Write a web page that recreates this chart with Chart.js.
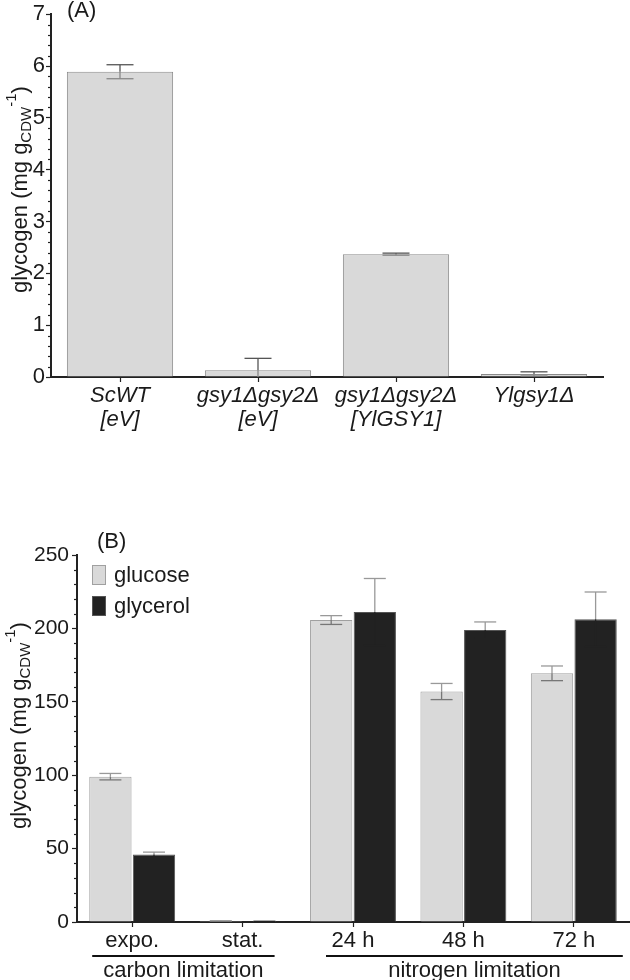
<!DOCTYPE html>
<html>
<head>
<meta charset="utf-8">
<script src="https://cdn.jsdelivr.net/npm/chart.js@4"></script>
<style>
  body { margin: 0; background: #fff; width: 630px; height: 980px; position: relative; overflow: hidden; }
  .panel { position: absolute; left: 0; width: 630px; }
  #panelA { top: 0; height: 470px; }
  #panelB { top: 480px; height: 500px; }
</style>
</head>
<body>
<div class="panel" id="panelA"><canvas id="chartA"></canvas></div>
<div class="panel" id="panelB"><canvas id="chartB"></canvas></div>
<script>
// panel A: glycogen per strain
const strainLabels = [['ScWT', '[eV]'], ['gsy1Δgsy2Δ', '[eV]'], ['gsy1Δgsy2Δ', '[YlGSY1]'], ['Ylgsy1Δ']];
const strainGlycogen = [5.89, 0.13, 2.37, 0.06];
const strainErr = [0.135, 0.23, 0.02, 0.04];

// panel B: glucose vs glycerol over growth phases
const phaseLabels = ['expo.', 'stat.', '24 h', '48 h', '72 h'];
const groupLabels = ['carbon limitation', 'nitrogen limitation'];
const groupRanges = [[0, 1], [2, 4]];
const glucoseVals = [99, 0.6, 205.7, 157, 169.4];
const glucoseErr = [2.2, 0.2, 3, 5.5, 5];
const glycerolVals = [46, 0.5, 211.2, 198.9, 206.2];
const glycerolErr = [1.6, 0.2, 22.8, 5.5, 18.6];

const yTitleParts = ['glycogen (mg g', 'CDW', '-1', ')'];

const FONT = 'Arial, "Liberation Sans", sans-serif';
const INK = '#1a1a1a';

Chart.defaults.font.family = FONT;
Chart.defaults.color = INK;

function line(ctx, x1, y1, x2, y2) {
  ctx.beginPath();
  ctx.moveTo(x1, y1);
  ctx.lineTo(x2, y2);
  ctx.stroke();
}

const errorBars = {
  id: 'errorBars',
  afterDatasetsDraw(chart, args, opts) {
    const ctx = chart.ctx, y = chart.scales.y, a = chart.chartArea;
    ctx.save();
    ctx.beginPath();
    ctx.rect(a.left, a.top - 30, a.right - a.left, a.bottom - a.top + 30);
    ctx.clip();
    ctx.lineWidth = 1.3;
    chart.data.datasets.forEach((ds, di) => {
      if (!ds.errors) return;
      const meta = chart.getDatasetMeta(di);
      meta.data.forEach((bar, i) => {
        const v = ds.data[i], e = ds.errors[i];
        const hi = y.getPixelForValue(v + e), lo = y.getPixelForValue(v - e);
        const h = opts.cap / 2;
        ctx.strokeStyle = ds.errColor;
        line(ctx, bar.x, bar.y, bar.x, hi);
        line(ctx, bar.x - h, hi, bar.x + h, hi);
        ctx.strokeStyle = ds.errLowColor;
        line(ctx, bar.x, bar.y, bar.x, lo);
        line(ctx, bar.x - h, lo, bar.x + h, lo);
      });
    });
    ctx.restore();
  }
};

const minorTicks = {
  id: 'minorTicks',
  afterDraw(chart, args, opts) {
    const ctx = chart.ctx, s = chart.scales.y;
    const n = Math.round((s.max - s.min) / opts.step);
    const ratio = Math.round(opts.major / opts.step);
    ctx.save();
    ctx.strokeStyle = '#222';
    ctx.lineWidth = 1.2;
    for (let k = 0; k <= n; k++) {
      if (k % ratio === 0) continue;
      const py = Math.round(s.getPixelForValue(s.min + k * opts.step)) + 0.5;
      line(ctx, s.right - opts.len, py, s.right, py);
    }
    ctx.restore();
  }
};

const yTitle = {
  id: 'yTitle',
  afterDraw(chart, args, opts) {
    const ctx = chart.ctx, a = chart.chartArea;
    const big = '22px ' + FONT, small = '15px ' + FONT;
    ctx.save();
    ctx.font = big;
    const w0 = ctx.measureText(yTitleParts[0]).width;
    const w3 = ctx.measureText(yTitleParts[3]).width;
    ctx.font = small;
    const w1 = ctx.measureText(yTitleParts[1]).width;
    const w2 = ctx.measureText(yTitleParts[2]).width;
    const total = w0 + w1 + w2 + w3;
    ctx.translate(opts.x, (a.top + a.bottom) / 2 + opts.dy);
    ctx.rotate(-Math.PI / 2);
    ctx.fillStyle = INK;
    ctx.textBaseline = 'alphabetic';
    let x = -total / 2;
    ctx.font = big;
    ctx.fillText(yTitleParts[0], x, 0); x += w0;
    ctx.font = small;
    ctx.fillText(yTitleParts[1], x, 4); x += w1;
    ctx.fillText(yTitleParts[2], x, -11); x += w2;
    ctx.font = big;
    ctx.fillText(yTitleParts[3], x, 0);
    ctx.restore();
  }
};

const panelLabel = {
  id: 'panelLabel',
  afterDraw(chart, args, opts) {
    const ctx = chart.ctx;
    ctx.save();
    ctx.font = '22px ' + FONT;
    ctx.fillStyle = INK;
    ctx.textBaseline = 'middle';
    ctx.fillText(opts.text, opts.x, opts.y);
    ctx.restore();
  }
};

const boxLegend = {
  id: 'boxLegend',
  afterDraw(chart, args, opts) {
    if (!opts.show) return;
    const ctx = chart.ctx, a = chart.chartArea;
    ctx.save();
    ctx.font = '22px ' + FONT;
    ctx.textBaseline = 'middle';
    chart.data.datasets.forEach((ds, i) => {
      const bx = a.left + 15, by = a.top + 10 + i * 31;
      ctx.fillStyle = ds.backgroundColor;
      ctx.fillRect(bx, by, 14, 20);
      ctx.strokeStyle = ds.borderColor;
      ctx.lineWidth = 1;
      ctx.strokeRect(bx + 0.5, by + 0.5, 13, 19);
      ctx.fillStyle = INK;
      ctx.fillText(ds.label, bx + 22, by + 11);
    });
    ctx.restore();
  }
};

const groupAxis = {
  id: 'groupAxis',
  afterDraw(chart, args, opts) {
    if (!opts.show) return;
    const ctx = chart.ctx, x = chart.scales.x, a = chart.chartArea;
    const ext = [[40, 32], [27, 49]];
    ctx.save();
    ctx.font = '22px ' + FONT;
    ctx.fillStyle = INK;
    ctx.strokeStyle = '#111';
    ctx.lineWidth = 2;
    ctx.textAlign = 'center';
    ctx.textBaseline = 'middle';
    groupRanges.forEach((r, g) => {
      const x1 = x.getPixelForValue(r[0]) - ext[g][0];
      const x2 = x.getPixelForValue(r[1]) + ext[g][1];
      const ly = a.bottom + 34;
      line(ctx, x1, ly, x2, ly);
      ctx.fillText(groupLabels[g], (x1 + x2) / 2, ly + 15);
    });
    ctx.restore();
  }
};

function axes(yMax, yStep, yWidth, xHeight, italic, labelPad, tickSize) {
  return {
    x: {
      offset: true,
      border: { color: '#222', width: 2 },
      grid: { offset: false, drawOnChartArea: false, tickLength: 5, tickColor: '#222', tickWidth: 1.2 },
      ticks: { font: { size: 22, style: italic ? 'italic' : 'normal', lineHeight: 1.1 }, color: INK, padding: 2, maxRotation: 0, autoSkip: false },
      afterFit(s) { s.height = xHeight; }
    },
    y: {
      min: 0, max: yMax,
      border: { color: '#222', width: 2 },
      grid: { drawOnChartArea: false, tickLength: 5, tickColor: '#222', tickWidth: 1.2 },
      ticks: { stepSize: yStep, font: { size: tickSize }, color: INK, padding: labelPad },
      afterFit(s) { s.width = yWidth; }
    }
  };
}

new Chart(document.getElementById('chartA'), {
  type: 'bar',
  data: {
    labels: strainLabels,
    datasets: [{
      label: 'glycogen',
      data: strainGlycogen,
      errors: strainErr,
      errColor: '#555',
      errLowColor: '#888',
      backgroundColor: '#d9d9d9',
      borderColor: '#8a8a8a',
      borderWidth: 1,
      barPercentage: 0.77,
      categoryPercentage: 1
    }]
  },
  options: {
    responsive: true,
    maintainAspectRatio: false,
    animation: false,
    layout: { padding: { top: 12, right: 27, left: 0, bottom: 0 } },
    scales: axes(7, 1, 51, 93, true, 1, 22),
    plugins: {
      legend: { display: false },
      tooltip: { enabled: false },
      errorBars: { cap: 27 },
      minorTicks: { step: 0.2, major: 1, len: 3 },
      yTitle: { x: 27, dy: -6 },
      panelLabel: { text: '(A)', x: 67, y: 11 }
    }
  },
  plugins: [errorBars, minorTicks, yTitle, panelLabel]
});

new Chart(document.getElementById('chartB'), {
  type: 'bar',
  data: {
    labels: phaseLabels,
    datasets: [{
      label: 'glucose',
      data: glucoseVals,
      errors: glucoseErr,
      errColor: '#999',
      errLowColor: '#777',
      backgroundColor: '#d9d9d9',
      borderColor: '#a0a0a0',
      borderWidth: 1,
      barPercentage: 0.97,
      categoryPercentage: 0.79
    }, {
      label: 'glycerol',
      data: glycerolVals,
      errors: glycerolErr,
      errColor: '#999',
      errLowColor: '#222',
      backgroundColor: '#222222',
      borderColor: '#555',
      borderWidth: 1,
      barPercentage: 0.97,
      categoryPercentage: 0.79
    }]
  },
  options: {
    responsive: true,
    maintainAspectRatio: false,
    animation: false,
    layout: { padding: { top: 75, right: 1, left: 0, bottom: 0 } },
    scales: axes(250, 50, 77, 58, false, 3, 21),
    plugins: {
      legend: { display: false },
      tooltip: { enabled: false },
      errorBars: { cap: 22 },
      minorTicks: { step: 10, major: 50, len: 3 },
      yTitle: { x: 26, dy: -13 },
      panelLabel: { text: '(B)', x: 97, y: 62 },
      boxLegend: { show: true },
      groupAxis: { show: true }
    }
  },
  plugins: [errorBars, minorTicks, yTitle, panelLabel, boxLegend, groupAxis]
});
</script>
</body>
</html>
